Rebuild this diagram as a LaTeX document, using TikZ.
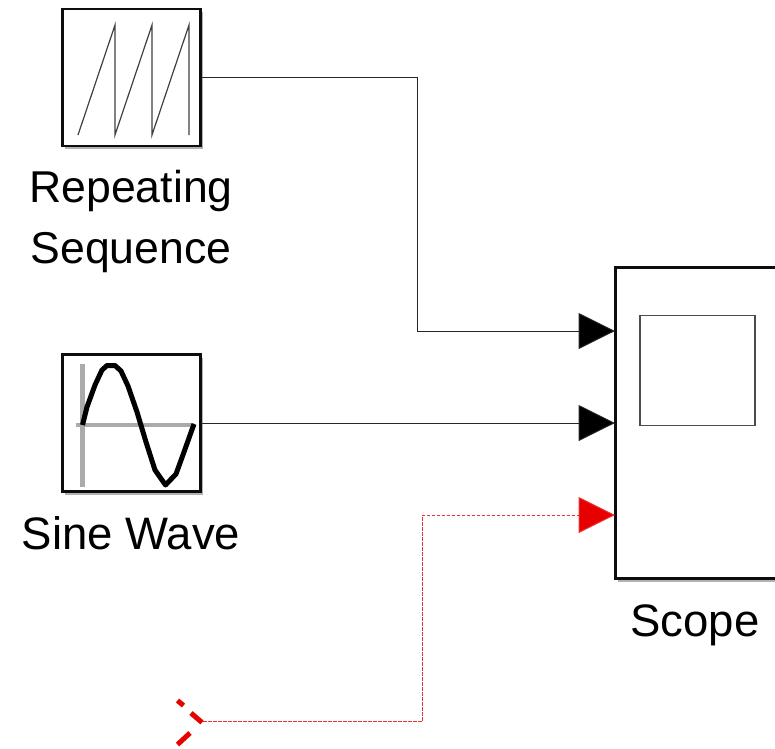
\documentclass[tikz,border=0pt]{standalone}
\usepackage{fontspec}
\setmainfont{Liberation Sans}
\usetikzlibrary{arrows.meta,shadows,calc}
\definecolor{sigred}{RGB}{230,0,0}
\tikzset{
  block/.style={draw=black!95,line width=2.6pt,fill=white,minimum width=138pt,minimum height=137pt,inner sep=0pt,outer sep=0pt,
    drop shadow={shadow xshift=2.5pt,shadow yshift=-3pt,fill=black,opacity=.3}},
  label/.style={font=\fontsize{45.5}{60.5}\selectfont,align=center,inner sep=0pt,text=black},
  wire/.style={line width=1pt,draw=black!85,-{Triangle[length=36.5pt,width=36pt,fill=black]}},
  redwire/.style={line width=1pt,draw=sigred!80,dash pattern=on 3.5pt off 1.5pt,-{Triangle[length=36.5pt,width=36pt,fill=sigred]}},
  icon/.style={line width=1.2pt,draw=black!75},
  chev/.style={line width=5pt,draw=sigred}
}
\begin{document}
\begin{tikzpicture}[x=1pt,y=-1pt]
\useasboundingbox (0,0) rectangle (775,748);
\node[block] (rs) at (131.5,77.5) {};
\node[block] (sw) at (131.5,423) {};
\node[block,anchor=north west,minimum width=170pt,minimum height=311pt] (sc) at (615.5,267.5) {};
% icons
\draw[icon] (78,135) -- (115,25) -- (115,135) -- (152,25) -- (152,135) -- (189,25) -- (189,135);
\draw[line width=4.5pt,draw=black!33] (82.5,364) -- (82.5,487) (76,425) -- (194,425);
\draw[line width=5pt,line join=round,draw=black] (82.5,425) -- (87,407) -- (95,385) -- (102,370) -- (107,365.5) -- (115,365.5) -- (121,371) -- (128,386) -- (137,412) -- (146,442) -- (155,470) -- (165.5,485) -- (176,474) -- (184,452) -- (194,424);
\node[draw=black!70,line width=1.4pt,fill=white,inner sep=0pt,minimum width=115pt,minimum height=110.5pt] (screen) at (697.5,370.5) {};
% labels
\node[label,font=\fontsize{44.6}{60.5}\selectfont] (rslabel) at (131,221.5) {Repeating\\Sequence};
\node[label] (swlabel) at (131,533.5) {Sine Wave};
\node[label] (sclabel) at (695,625) {Scope};
% ports and junctions
\coordinate (p1) at (615,331);
\coordinate (p2) at (615,423);
\coordinate (p3) at (615,515);
\coordinate (j1) at (417.5,331);
\coordinate (src) at (203,721.5);
\coordinate (j2) at (422,721.5);
\coordinate (j3) at (422,515);
% connectors
\draw[wire] (rs.east) -| (j1) -- (p1);
\draw[wire] (sw.east) -- (p2);
\draw[redwire] (src) -- (j2) -- (j3) -- (p3);
% unconnected-source chevron
\draw[chev] (177.5,700.5) -- (183.5,705.5);
\draw[chev] (191,713) -- (202,722.5);
\draw[chev] (177.5,744.5) -- (190,733);
\end{tikzpicture}
\end{document}
